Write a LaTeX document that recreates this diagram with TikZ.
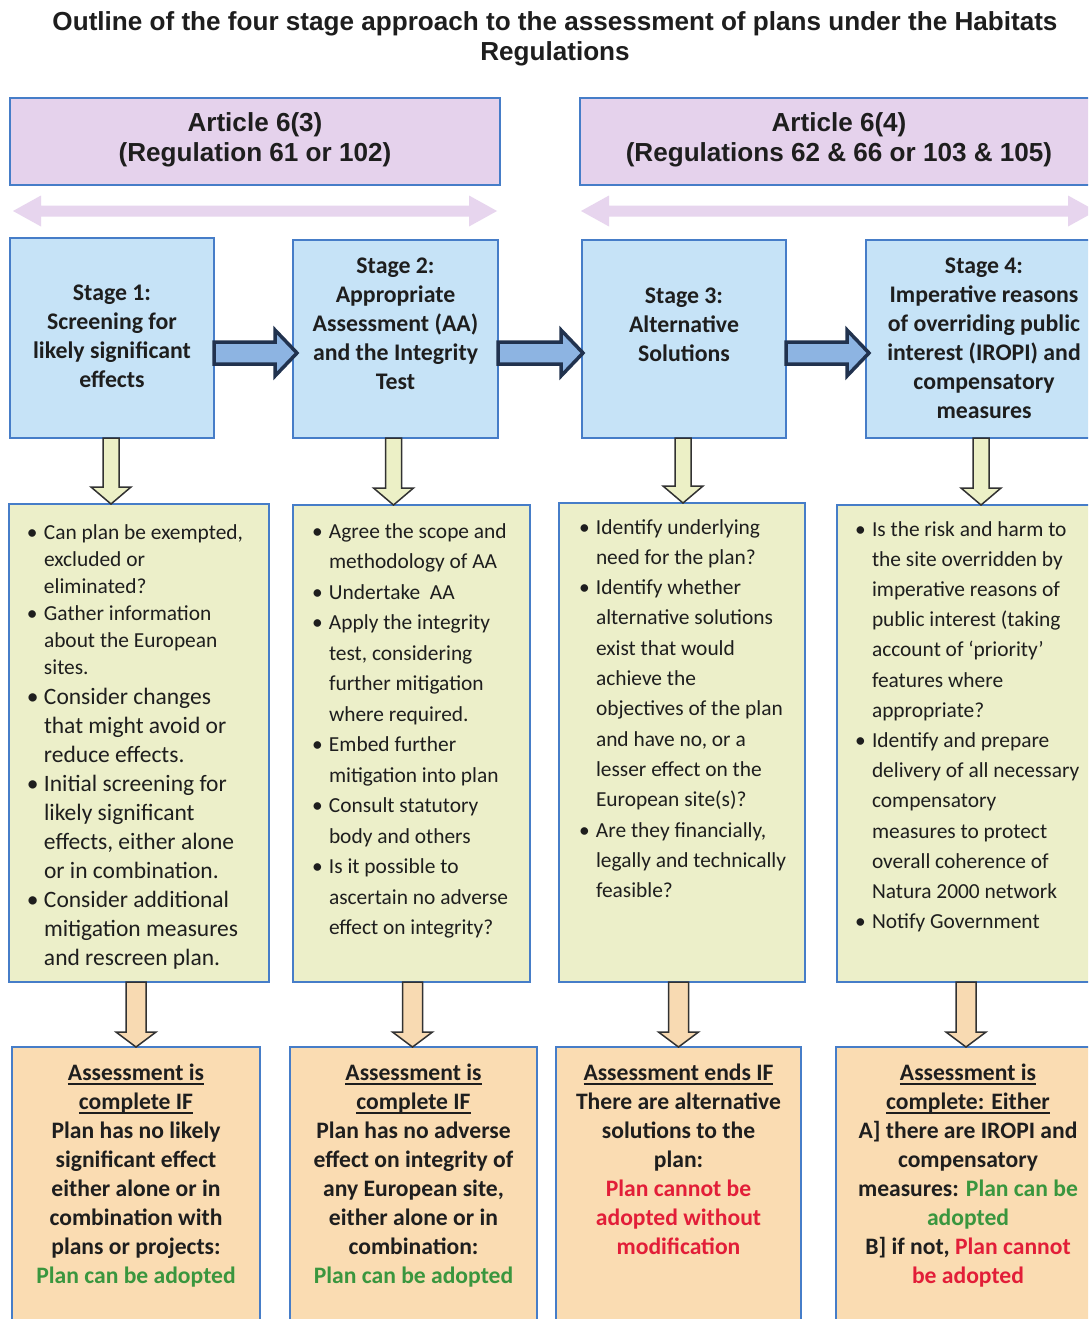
\documentclass[tikz,border=0pt]{standalone}
\usepackage{fontspec}
\setmainfont{Carlito}
\newfontfamily\arialfont{Liberation Sans}
\usetikzlibrary{calc}
\definecolor{artfill}{RGB}{229,210,236}
\definecolor{stfill}{RGB}{198,227,247}
\definecolor{grfill}{RGB}{236,239,201}
\definecolor{orfill}{RGB}{250,220,178}
\definecolor{bordblue}{RGB}{70,125,200}
\definecolor{navy}{RGB}{33,50,78}
\definecolor{arrblue}{RGB}{141,180,226}
\definecolor{lav}{RGB}{231,213,238}
\definecolor{arrgreen}{RGB}{236,240,198}
\definecolor{arrtan}{RGB}{248,218,178}
\definecolor{okgreen}{RGB}{58,150,62}
\definecolor{nored}{RGB}{226,30,56}
\definecolor{ink}{RGB}{30,30,30}
\definecolor{arrline}{RGB}{50,50,50}
\newsavebox\ulbox
\newcommand\ulx[1]{\sbox\ulbox{#1}\rlap{\rule[-4.5pt]{\wd\ulbox}{1.5pt}}\usebox\ulbox}
\newcommand\bi{\makebox[17pt][l]{\textbullet}}
\newcommand\ci{\hspace*{17pt}}
\newcommand\ok[1]{\textcolor{okgreen}{#1}}
\newcommand\no[1]{\textcolor{nored}{#1}}
% vertical block arrow: style, from, to, shaft half, head half, head length
\newcommand\vblock[6]{%
  \draw[#1] let \p1=(#2), \p2=(#3) in
   ({\x1-#4pt},\y1) -- ({\x1-#4pt},{\y2+#6pt}) -- ({\x1-#5pt},{\y2+#6pt}) -- (\x1,\y2)
   -- ({\x1+#5pt},{\y2+#6pt}) -- ({\x1+#4pt},{\y2+#6pt}) -- ({\x1+#4pt},\y1) -- cycle;}
% horizontal block arrow
\newcommand\hblock[6]{%
  \draw[#1] let \p1=(#2), \p2=(#3) in
   (\x1,{\y1+#4pt}) -- ({\x2-#6pt},{\y1+#4pt}) -- ({\x2-#6pt},{\y1+#5pt}) -- (\x2,\y1)
   -- ({\x2-#6pt},{\y1-#5pt}) -- ({\x2-#6pt},{\y1-#4pt}) -- (\x1,{\y1-#4pt}) -- cycle;}
% double block arrow
\newcommand\dblock[6]{%
  \fill[#1] let \p1=(#2), \p2=(#3) in
   (\x1,\y1) -- ({\x1+#6pt},{\y1+#5pt}) -- ({\x1+#6pt},{\y1+#4pt}) -- ({\x2-#6pt},{\y1+#4pt})
   -- ({\x2-#6pt},{\y1+#5pt}) -- (\x2,\y1) -- ({\x2-#6pt},{\y1-#5pt}) -- ({\x2-#6pt},{\y1-#4pt})
   -- ({\x1+#6pt},{\y1-#4pt}) -- ({\x1+#6pt},{\y1-#5pt}) -- cycle;}
\tikzset{
  box/.style={draw=bordblue, line width=2pt, inner sep=0pt, outer sep=0pt, rectangle},
  artbox/.style={box, fill=artfill},
  stbox/.style={box, fill=stfill},
  grbox/.style={box, fill=grfill},
  orbox/.style={box, fill=orfill},
  txt/.style={inner sep=0pt, outer sep=0pt, anchor=base, text=ink},
  titletxt/.style={txt, font=\arialfont\bfseries\fontsize{26.1}{30}\selectfont},
  arttxt/.style={txt, font=\arialfont\bfseries\fontsize{26.1}{30.5}\selectfont},
  sttxt/.style={txt, font=\bfseries\fontsize{23.8}{29}\selectfont},
  ortxt/.style={txt, font=\bfseries\fontsize{23.6}{29}\selectfont},
  bultxt/.style={txt, anchor=base west, font=\fontsize{21.4}{#1}\selectfont},
  bigbultxt/.style={txt, anchor=base west, font=\fontsize{23.5}{#1}\selectfont},
  barrow/.style={draw=navy, fill=arrblue, line width=3.5pt, line join=miter},
  garrow/.style={draw=arrline, fill=arrgreen, line width=1.5pt, line join=miter},
  tarrow/.style={draw=arrline, fill=arrtan, line width=1.5pt, line join=miter},
  larrow/.style={fill=lav}
}
\begin{document}
\begin{tikzpicture}[x=1pt,y=-1pt]
\useasboundingbox (0,0) rectangle (1088,1319);
\clip (0,0) rectangle (1088,1319);
\fill[white] (0,0) rectangle (1088,1319);

% title
\node[titletxt] (title) at (555,31) {\begin{tabular}[t]{@{}c@{}}Outline of the four stage approach to the assessment of plans under the Habitats\\Regulations\end{tabular}};

% article boxes
\node[artbox, minimum width=490, minimum height=87] (art1) at (255,141.5) {};
\node[artbox, minimum width=518, minimum height=87] (art2) at (839,141.5) {};
\node[arttxt] (art1t) at (255,131.5) {\begin{tabular}[t]{@{}c@{}}Article 6(3)\\(Regulation 61 or 102)\end{tabular}};
\node[arttxt] (art2t) at (839,131.5) {\begin{tabular}[t]{@{}c@{}}Article 6(4)\\(Regulations 62 \& 66 or 103 \& 105)\end{tabular}};

% lavender double arrows
\dblock{larrow}{$(art1.south west)+(3,26)$}{$(art1.south east)+(-3,26)$}{5.5}{15.5}{28}
\dblock{larrow}{$(art2.south west)+(1,26)$}{$(art2.south east)+(-2,26)$}{5.5}{15.5}{28}

% stage boxes
\node[stbox, minimum width=204, minimum height=200] (s1) at (112,338) {};
\node[stbox, minimum width=205, minimum height=198] (s2) at (395.5,339) {};
\node[stbox, minimum width=204, minimum height=198] (s3) at (684,339) {};
\node[stbox, minimum width=236, minimum height=198] (s4) at (984,339) {};
\node[sttxt] (s1t) at (112,300) {\begin{tabular}[t]{@{}c@{}}Stage 1:\\Screening for\\likely significant\\effects\end{tabular}};
\node[sttxt] (s2t) at (395.5,273) {\begin{tabular}[t]{@{}c@{}}Stage 2:\\Appropriate\\Assessment (AA)\\and the Integrity\\Test\end{tabular}};
\node[sttxt] (s3t) at (684,303) {\begin{tabular}[t]{@{}c@{}}Stage 3:\\Alternative\\Solutions\end{tabular}};
\node[sttxt] (s4t) at (984,273) {\begin{tabular}[t]{@{}c@{}}Stage 4:\\Imperative reasons\\of overriding public\\interest (IROPI) and\\compensatory\\measures\end{tabular}};

% green boxes
\node[grbox, minimum width=260, minimum height=478] (g1) at (139,743) {};
\node[grbox, minimum width=237, minimum height=477] (g2) at (411.5,743.5) {};
\node[grbox, minimum width=246, minimum height=479] (g3) at (682,742.5) {};
\node[grbox, minimum width=263, minimum height=477] (g4) at (968.5,743.5) {};
\node[bultxt=27] (g1ta) at (27,539) {\begin{tabular}[t]{@{}l@{}}
\bi Can plan be exempted,\\ \ci excluded or\\ \ci eliminated?\\
\bi Gather information\\ \ci about the European\\ \ci sites.\end{tabular}};
\node[bigbultxt=29] (g1tb) at (27,704.5) {\begin{tabular}[t]{@{}l@{}}
\bi Consider changes\\ \ci that might avoid or\\ \ci reduce effects.\\
\bi Initial screening for\\ \ci likely significant\\ \ci effects, either alone\\ \ci or in combination.\\
\bi Consider additional\\ \ci mitigation measures\\ \ci and rescreen plan.\end{tabular}};
\node[bultxt=30.5] (g2t) at (312,538) {\begin{tabular}[t]{@{}l@{}}
\bi Agree the scope and\\ \ci methodology of AA\\
\bi Undertake~ AA\\
\bi Apply the integrity\\ \ci test, considering\\ \ci further mitigation\\ \ci where required.\\
\bi Embed further\\ \ci mitigation into plan\\
\bi Consult statutory\\ \ci body and others\\
\bi Is it possible to\\ \ci ascertain no adverse\\ \ci effect on integrity?\end{tabular}};
\node[bultxt=30.3] (g3t) at (579,534) {\begin{tabular}[t]{@{}l@{}}
\bi Identify underlying\\ \ci need for the plan?\\
\bi Identify whether\\ \ci alternative solutions\\ \ci exist that would\\ \ci achieve the\\ \ci objectives of the plan\\ \ci and have no, or a\\ \ci lesser effect on the\\ \ci European site(s)?\\
\bi Are they financially,\\ \ci legally and technically\\ \ci feasible?\end{tabular}};
\node[bultxt=30.2] (g4t) at (855,536) {\begin{tabular}[t]{@{}l@{}}
\bi Is the risk and harm to\\ \ci the site overridden by\\ \ci imperative reasons of\\ \ci public interest (taking\\ \ci account of ‘priority’\\ \ci features where\\ \ci appropriate?\\
\bi Identify and prepare\\ \ci delivery of all necessary\\ \ci compensatory\\ \ci measures to protect\\ \ci overall coherence of\\ \ci Natura 2000 network\\
\bi Notify Government\end{tabular}};

% orange boxes
\node[orbox, minimum width=248, minimum height=293] (o1) at (136,1193.5) {};
\node[orbox, minimum width=247, minimum height=293] (o2) at (413.5,1193.5) {};
\node[orbox, minimum width=245, minimum height=293] (o3) at (678.5,1193.5) {};
\node[orbox, minimum width=264, minimum height=293] (o4) at (968,1193.5) {};
\node[ortxt] (o1t) at (136,1080) {\begin{tabular}[t]{@{}c@{}}\ulx{Assessment is}\\\ulx{complete IF}\\Plan has no likely\\significant effect\\either alone or in\\combination with\\plans or projects:\\\ok{Plan can be adopted}\end{tabular}};
\node[ortxt] (o2t) at (413.5,1080) {\begin{tabular}[t]{@{}c@{}}\ulx{Assessment is}\\\ulx{complete IF}\\Plan has no adverse\\effect on integrity of\\any European site,\\either alone or in\\combination:\\\ok{Plan can be adopted}\end{tabular}};
\node[ortxt] (o3t) at (678.5,1080) {\begin{tabular}[t]{@{}c@{}}\ulx{Assessment ends IF}\\There are alternative\\solutions to the\\plan:\\\no{Plan cannot be}\\\no{adopted without}\\\no{modification}\end{tabular}};
\node[ortxt] (o4t) at (968,1080) {\begin{tabular}[t]{@{}c@{}}\ulx{Assessment is}\\\ulx{complete: Either}\\A] there are IROPI and\\compensatory\\measures: \ok{Plan can be}\\\ok{adopted}\\B] if not, \no{Plan cannot}\\\no{be adopted}\end{tabular}};

% blue horizontal arrows
\coordinate (hrow) at (0,353);
\hblock{barrow}{s1.east |- hrow}{$(s2.west |- hrow)+(4,0)$}{11}{23}{22}
\hblock{barrow}{s2.east |- hrow}{$(s3.west |- hrow)+(1,0)$}{11}{23}{22}
\hblock{barrow}{s3.east |- hrow}{$(s4.west |- hrow)+(3,0)$}{11}{23}{22}

% stage -> green arrows
\coordinate (d1) at (111,0);
\coordinate (d2) at (393.5,0);
\coordinate (d3) at (683,0);
\coordinate (d4) at (981,0);
\vblock{garrow}{s1.south -| d1}{g1.north -| d1}{8}{20}{17}
\vblock{garrow}{s2.south -| d2}{g2.north -| d2}{8}{20}{17}
\vblock{garrow}{s3.south -| d3}{g3.north -| d3}{8}{20}{17}
\vblock{garrow}{s4.south -| d4}{g4.north -| d4}{8}{20}{17}

% green -> orange arrows
\coordinate (e1) at (136,0);
\coordinate (e2) at (412.5,0);
\coordinate (e3) at (678.5,0);
\coordinate (e4) at (966,0);
\vblock{tarrow}{g1.south -| e1}{o1.north -| e1}{10}{20}{15}
\vblock{tarrow}{g2.south -| e2}{o2.north -| e2}{10}{20}{15}
\vblock{tarrow}{g3.south -| e3}{o3.north -| e3}{10}{20}{15}
\vblock{tarrow}{g4.south -| e4}{o4.north -| e4}{10}{20}{15}
\end{tikzpicture}
\end{document}
